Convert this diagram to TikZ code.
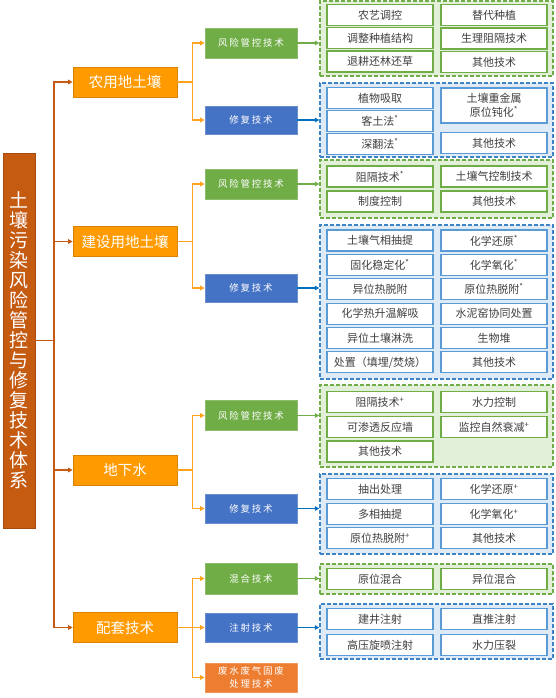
\documentclass[tikz,border=0pt]{standalone}
\usepackage{fontspec}
\newfontfamily\cjk{Noto Sans CJK SC}
\newfontfamily\cjksp[LetterSpace=18]{Noto Sans CJK SC}
\usetikzlibrary{arrows.meta}
\definecolor{brn}{HTML}{C55A11}
\definecolor{org}{HTML}{FF9A00}
\definecolor{orgline}{HTML}{FFA31A}
\definecolor{org2}{HTML}{ED7D31}
\definecolor{grn}{HTML}{70AD47}
\definecolor{blu}{HTML}{4472C4}
\definecolor{grnlt}{HTML}{E2F0D9}
\definecolor{blult}{HTML}{DEEBF7}
\definecolor{bludash}{HTML}{3D85C6}
\definecolor{bluin}{HTML}{5B9BD5}
\definecolor{bluarr}{HTML}{0070C0}
\definecolor{txt}{HTML}{404040}
\tikzset{
  tip/.style={-{Triangle[length=4.5pt,width=4.5pt]}},
  lvone/.style={draw=org!85!black, line width=0.6pt, fill=org, text=white, minimum width=104pt, minimum height=30pt, inner sep=0pt, font=\cjk\fontsize{14.5}{16}\selectfont},
  lvtwo/.style={draw=#1!80!white, line width=0.6pt, fill=#1, text=white, minimum width=92pt, minimum height=30pt, inner sep=0pt, align=center, font=\cjksp\fontsize{9.5}{13}\selectfont},
  ggroup/.style={draw=grn, fill=grnlt, dash pattern=on 4pt off 2pt, line width=1.3pt, minimum width=233pt, inner sep=0pt},
  bgroup/.style={draw=bludash, fill=blult, dash pattern=on 4pt off 2pt, line width=1.3pt, minimum width=233pt, inner sep=0pt},
  gitem/.style={draw=grn, fill=white, line width=1.1pt, minimum width=106pt, minimum height=21pt, inner sep=0pt, text=txt, align=center, font=\cjk\fontsize{11}{13.5}\selectfont},
  bitem/.style={gitem, draw=bluin},
}
\newcommand{\sst}{\textsuperscript{*}}
\newcommand{\spl}{\textsuperscript{+}}
\begin{document}
\begin{tikzpicture}[x=1pt,y=-1pt]
\useasboundingbox (0,0) rectangle (555,698);
% groups
\node[ggroup, minimum height=75pt] (ga) at (436.5,38.5) {};
\node[bgroup, minimum height=74pt] (gb) at (436.5,120) {};
\node[ggroup, minimum height=58pt] (gc) at (436.5,189) {};
\node[bgroup, minimum height=154pt] (gd) at (436.5,302) {};
\node[ggroup, minimum height=82pt] (ge) at (436.5,426) {};
\node[bgroup, minimum height=80pt] (gf) at (436.5,514) {};
\node[ggroup, minimum height=30pt] (gg) at (436.5,579) {};
\node[bgroup, minimum height=55pt] (gh) at (436.5,631.5) {};
% title
\node[fill=brn, draw=brn!85!black, line width=0.6pt, minimum width=32pt, minimum height=375pt, inner sep=0pt, text=white, align=center, font=\cjk\fontsize{19}{20}\selectfont] (t) at (19,340.5)
 {土\\壤\\污\\染\\风\\险\\管\\控\\与\\修\\复\\技\\术\\体\\系};
% level 1
\node[lvone] (a) at (125,82) {农用地土壤};
\node[lvone] (b) at (125,241.5) {建设用地土壤};
\node[lvone] (c) at (125,470) {地下水};
\node[lvone] (d) at (125,627.5) {配套技术};
% level 2
\node[lvtwo=grn] (a1) at (251,43) {风险管控技术};
\node[lvtwo=blu, minimum height=28pt] (a2) at (251,120) {修复技术};
\node[lvtwo=grn] (b1) at (251,184) {风险管控技术};
\node[lvtwo=blu, minimum height=28pt] (b2) at (251,288) {修复技术};
\node[lvtwo=grn] (c1) at (251,415.5) {风险管控技术};
\node[lvtwo=blu, minimum height=29pt] (c2) at (251,508.5) {修复技术};
\node[lvtwo=grn, minimum height=31pt] (d1) at (251,578.5) {混合技术};
\node[lvtwo=blu, minimum height=29pt] (d2) at (251,627.5) {注射技术};
\node[lvtwo=org2, minimum height=29pt, font=\cjksp\fontsize{9.5}{13.5}\selectfont] (d3) at (251,677.5) {废水废气固废\\处理技术};
% connectors title -> level 1
\coordinate (j) at (54,340.5);
\draw[brn, line width=1.4pt] (t.east |- j) -- (j);
\foreach \n in {a,b,c,d} \draw[brn, line width=1.4pt, tip] (j) |- (\n.west);
% level 1 -> level 2
\foreach \p/\q in {a/a1,a/a2,b/b1,b/b2,c/c1,c/c2,d/d1,d/d2,d/d3}
  \draw[orgline, line width=1.4pt, tip] (\p.east) -- ++(15,0) |- (\q.west);
% level 2 -> groups
\foreach \p/\q in {a1/ga,b1/gc,c1/ge,d1/gg}
  \draw[grn, line width=1.4pt, tip] (\p.east) -- (\p.east -| \q.west);
\foreach \p/\q in {a2/gb,b2/gd,c2/gf,d2/gh}
  \draw[bluarr, line width=1.4pt, tip] (\p.east) -- (\p.east -| \q.west);
% items group A
\node[gitem] (ia1) at (380,15) {农艺调控};
\node[gitem] (ia2) at (380,38) {调整种植结构};
\node[gitem] (ia3) at (380,61.5) {退耕还林还草};
\node[gitem] (ia4) at (494,15) {替代种植};
\node[gitem] (ia5) at (494,38.5) {生理阻隔技术};
\node[gitem] (ia6) at (494,62) {其他技术};
% group B
\node[bitem] (ib1) at (380,98) {植物吸取};
\node[bitem] (ib2) at (380,121) {客土法\sst};
\node[bitem] (ib3) at (380,144) {深翻法\sst};
\node[bitem, minimum height=35pt] (ib4) at (494,105.5) {土壤重金属\\原位钝化\sst};
\node[bitem] (ib5) at (494,143) {其他技术};
% group C
\node[gitem] (ic1) at (380,176.5) {阻隔技术\sst};
\node[gitem] (ic2) at (380,201.5) {制度控制};
\node[gitem] (ic3) at (494,176.5) {土壤气控制技术};
\node[gitem] (ic4) at (494,201.5) {其他技术};
% group D
\node[bitem] (id1) at (380,240.5) {土壤气相抽提};
\node[bitem] (id2) at (380,264.8) {固化稳定化\sst};
\node[bitem] (id3) at (380,289.2) {异位热脱附};
\node[bitem] (id4) at (380,313.6) {化学热升温解吸};
\node[bitem] (id5) at (380,338) {异位土壤淋洗};
\node[bitem] (id6) at (380,362.4) {处置（填埋/焚烧）};
\node[bitem] (id7) at (494,240.5) {化学还原\sst};
\node[bitem] (id8) at (494,264.8) {化学氧化\sst};
\node[bitem] (id9) at (494,289.2) {原位热脱附\sst};
\node[bitem] (id10) at (494,313.6) {水泥窑协同处置};
\node[bitem] (id11) at (494,338) {生物堆};
\node[bitem] (id12) at (494,362.4) {其他技术};
% group E
\node[gitem] (ie1) at (380,402) {阻隔技术\spl};
\node[gitem] (ie2) at (380,427) {可渗透反应墙};
\node[gitem] (ie3) at (380,451.5) {其他技术};
\node[gitem] (ie4) at (494,402) {水力控制};
\node[gitem] (ie5) at (494,427) {监控自然衰减\spl};
% group F
\node[bitem] (if1) at (380,489) {抽出处理};
\node[bitem] (if2) at (380,514) {多相抽提};
\node[bitem] (if3) at (380,538) {原位热脱附\spl};
\node[bitem] (if4) at (494,489) {化学还原\spl};
\node[bitem] (if5) at (494,514) {化学氧化\spl};
\node[bitem] (if6) at (494,538) {其他技术};
% group G
\node[gitem] (ig1) at (380,579) {原位混合};
\node[gitem] (ig2) at (494,579) {异位混合};
% group H
\node[bitem] (ih1) at (380,619) {建井注射};
\node[bitem] (ih2) at (380,645) {高压旋喷注射};
\node[bitem] (ih3) at (494,619) {直推注射};
\node[bitem] (ih4) at (494,645) {水力压裂};
\end{tikzpicture}
\end{document}
